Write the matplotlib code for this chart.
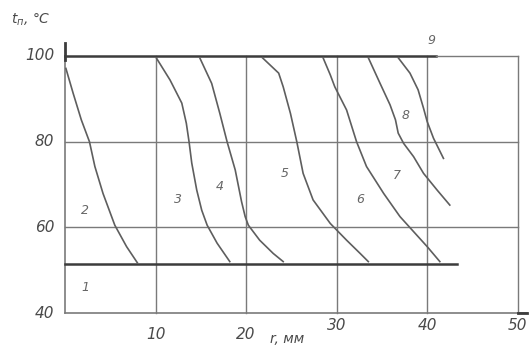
import matplotlib.pyplot as plt

# curve data: r, mm -> t_п, °C
r2 = [0.1, 0.9, 1.8, 2.7, 3.3, 4.2, 5.5, 6.8, 8.0]
t2 = [97.1, 91.3, 85.1, 80.0, 74.2, 67.9, 60.5, 55.5, 51.7]
r3 = [10.1, 11.6, 12.9, 13.4, 13.7, 14.0, 14.55, 15.1, 15.7, 16.8, 18.2]
t3 = [99.5, 94.4, 89.0, 84.3, 80.0, 75.0, 68.7, 64.0, 60.5, 56.3, 52.0]
r4 = [14.9, 16.2, 17.1, 17.9, 18.8, 19.5, 19.9, 20.25, 21.5, 23.0, 24.1]
t4 = [99.5, 93.6, 86.6, 80.0, 73.4, 66.0, 62.5, 60.5, 57.0, 53.9, 52.0]
r5 = [21.8, 23.6, 24.1, 24.9, 25.6, 26.3, 27.4, 29.3, 31.1, 32.6, 33.5]
t5 = [99.6, 96.0, 92.8, 86.6, 80.0, 72.6, 66.4, 60.9, 57.0, 53.9, 52.0]
r6 = [28.5, 29.3, 29.8, 31.1, 32.2, 33.3, 35.2, 37.0, 38.5, 40.0, 41.4]
t6 = [99.6, 95.6, 92.8, 87.4, 80.0, 74.2, 67.9, 62.5, 59.0, 55.5, 52.0]
r7 = [33.5, 34.8, 35.9, 36.5, 36.8, 37.4, 38.5, 39.6, 41.1, 42.5]
t7 = [99.6, 93.6, 88.6, 85.1, 82.0, 79.6, 76.5, 72.6, 68.7, 65.2]
r8 = [36.8, 38.1, 39.0, 39.6, 40.0, 40.7, 41.8]
t8 = [99.6, 96.0, 92.1, 87.8, 84.7, 80.8, 76.1]

curves = [(r2, t2), (r3, t3), (r4, t4), (r5, t5), (r6, t6), (r7, t7), (r8, t8)]

# region labels and where they sit
labels = ['1', '2', '3', '4', '5', '6', '7', '8', '9']
label_r = [2.2, 2.2, 12.5, 17.1, 24.3, 32.6, 36.6, 37.6, 40.5]
label_t = [46.0, 64.0, 66.4, 69.5, 72.6, 66.4, 72.2, 86.2, 103.7]

x_ticks = [10, 20, 30, 40, 50]
y_ticks = [40, 60, 80, 100]
t_low = 51.5    # lower limit line
r_low_end = 43.3
r_top_end = 41.0

fig = plt.figure(figsize=(5.29, 3.52), dpi=100)
ax = fig.add_axes([65 / 529, 39 / 352, 452.7 / 529, 257 / 352])
ax.set_xlim(0, 50)
ax.set_ylim(40, 100)
ax.axis('off')

grid_c = '#7a7a7a'
dark_c = '#3c3c3c'
text_c = '#4a4a4a'

# grid
for x in [10, 20, 30, 40, 50]:
    ax.plot([x, x], [40, 100], color=grid_c, lw=1.0, clip_on=False)
for y in [60, 80]:
    ax.plot([0, 50], [y, y], color=grid_c, lw=1.0, clip_on=False)
ax.plot([0, 51], [40, 40], color=grid_c, lw=1.2, clip_on=False)
ax.plot([50, 51], [40, 40], color=dark_c, lw=2.0, clip_on=False)
ax.plot([0, 0], [40, 100], color=grid_c, lw=1.2, clip_on=False)
ax.plot([0, 0], [99, 103], color=dark_c, lw=2.0, clip_on=False)

# thick limit lines
ax.plot([0, r_top_end], [100, 100], color=dark_c, lw=1.8, clip_on=False)
ax.plot([r_top_end, 50], [100, 100], color=grid_c, lw=1.0, clip_on=False)
ax.plot([0, r_low_end], [t_low, t_low], color=dark_c, lw=1.8, clip_on=False)

for r, t in curves:
    ax.plot(r, t, color='#5e5e5e', lw=1.2, clip_on=False,
            solid_joinstyle='round')

for s, x, y in zip(labels, label_r, label_t):
    ax.text(x, y, s, fontsize=9, style='italic', color='#666666',
            ha='center', va='center')

# tick labels
for x in x_ticks:
    y_off = 35.0 if x <= 20 else 37.0
    ax.text(x, y_off, str(x), fontsize=11, style='italic', color=text_c,
            ha='center', va='center', clip_on=False)
for y in y_ticks:
    ax.text(-1.2, y, str(y), fontsize=11, style='italic', color=text_c,
            ha='right', va='center', clip_on=False)

ax.text(24.5, 34.0, 'r, мм', fontsize=10, style='italic', color=text_c,
        ha='center', va='center', clip_on=False)
ax.text(-3.8, 108.5, r'$t_п$, °C', fontsize=10, style='italic', color=text_c,
        ha='center', va='center', clip_on=False)

fig.savefig('out.png', dpi=100, facecolor='white')
